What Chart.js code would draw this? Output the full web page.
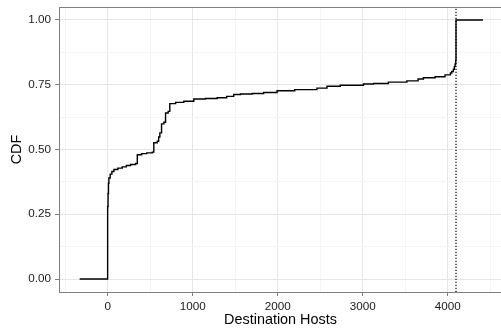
<!DOCTYPE html>
<html>
<head>
<meta charset="utf-8">
<script src="https://cdn.jsdelivr.net/npm/chart.js@4/dist/chart.umd.min.js"></script>
<style>
  body { margin: 0; background: #fff; }
  #wrap { width: 501px; height: 329px; }
</style>
</head>
<body>
<div id="wrap"><canvas id="cdfChart" width="501" height="329"></canvas></div>
<script>
// ECDF of destination hosts
const hosts = [-329, 0, 0, 5, 10, 15, 30, 50, 74, 120, 172, 220, 270, 329, 349, 400, 460, 525,
    543, 583, 600, 614, 634, 661, 681, 712, 731, 800, 896, 1013, 1150, 1288, 1400, 1482,
    1561, 1700, 1835, 1992, 2200, 2461, 2579, 2735, 3008, 3126, 3300, 3518, 3650, 3713,
    3850, 3967, 4030, 4046, 4065, 4076, 4085, 4093, 4096, 4413];
const cdf = [0, 0, 0.28, 0.33, 0.37, 0.39, 0.405, 0.415, 0.423, 0.428, 0.433, 0.438, 0.442, 0.446, 0.48, 0.484, 0.487, 0.49,
    0.526, 0.532, 0.548, 0.564, 0.599, 0.605, 0.641, 0.647, 0.677, 0.682, 0.686, 0.695, 0.697, 0.700, 0.705, 0.712,
    0.714, 0.716, 0.72, 0.727, 0.731, 0.737, 0.744, 0.748, 0.753, 0.755, 0.76, 0.765, 0.772, 0.777,
    0.781, 0.788, 0.795, 0.801, 0.81, 0.82, 0.83, 0.846, 1.0, 1.0];
const cutoff = 4096;   // dotted vertical line

const xTicks = [-500, 0, 500, 1000, 1500, 2000, 2500, 3000, 3500, 4000, 4500];
const yTicks = [0, 0.125, 0.25, 0.375, 0.5, 0.625, 0.75, 0.875, 1];

const isMajorX = v => v >= 0 && v % 1000 === 0;
const isMajorY = v => Math.abs(v * 4 - Math.round(v * 4)) < 1e-9;

const panelBorder = {
    id: 'panelBorder',
    afterDraw(chart) {
        const a = chart.chartArea, ctx = chart.ctx;
        ctx.save();
        ctx.strokeStyle = '#7f7f7f';
        ctx.lineWidth = 1;
        ctx.strokeRect(a.left - 0.5, a.top + 0.5, a.right - a.left + 5, a.bottom - a.top);
        ctx.restore();
    }
};

// keep the panel where the reference has it, ignore label overhang
function noPad(s) {
    s.paddingTop = 0; s.paddingBottom = 0; s.paddingLeft = 0; s.paddingRight = 0;
}

new Chart(document.querySelector('#cdfChart'), {
    type: 'scatter',
    data: {
        datasets: [
            {
                data: hosts.map((h, i) => ({ x: h, y: cdf[i] })),
                showLine: true,
                stepped: 'before',
                borderColor: '#000',
                borderWidth: 1.4,
                pointRadius: 0,
            },
            {
                data: [{ x: cutoff, y: -0.05 }, { x: cutoff, y: 1.05 }],
                showLine: true,
                borderColor: '#000',
                borderWidth: 1.2,
                borderDash: [1.3, 1.7],
                pointRadius: 0,
            },
        ],
    },
    plugins: [panelBorder],
    options: {
        responsive: false,
        animation: false,
        layout: { padding: { top: 7, right: 0, left: 0, bottom: 0 } },
        plugins: { legend: { display: false }, tooltip: { enabled: false } },
        scales: {
            x: {
                type: 'linear',
                min: -560,
                max: 4625,
                afterBuildTicks: s => { s.ticks = xTicks.map(v => ({ value: v })); },
                afterFit: s => { s.height = 37; noPad(s); },
                border: { display: false },
                grid: {
                    color: c => isMajorX(c.tick.value) ? '#e6e6e6' : '#f5f5f5',
                    tickColor: c => isMajorX(c.tick.value) ? '#7f7f7f' : 'rgba(0,0,0,0)',
                    tickLength: 4,
                },
                ticks: {
                    autoSkip: false,
                    maxRotation: 0,
                    padding: 4,
                    color: '#1a1a1a',
                    font: { family: 'Liberation Sans', size: 11.7 },
                    callback: v => isMajorX(v) ? String(v) : '',
                },
                title: {
                    display: true,
                    text: 'Destination Hosts',
                    color: '#000',
                    font: { family: 'Liberation Sans', size: 14.4 },
                    padding: { top: 0, bottom: 0 },
                },
            },
            y: {
                min: -0.05,
                max: 1.05,
                afterBuildTicks: s => { s.ticks = yTicks.map(v => ({ value: v })); },
                afterFit: s => { s.width = 60; noPad(s); },
                border: { display: false },
                grid: {
                    color: c => isMajorY(c.tick.value) ? '#e6e6e6' : '#f5f5f5',
                    tickColor: c => isMajorY(c.tick.value) ? '#7f7f7f' : 'rgba(0,0,0,0)',
                    tickLength: 5,
                },
                ticks: {
                    autoSkip: false,
                    padding: 4,
                    color: '#1a1a1a',
                    font: { family: 'Liberation Sans', size: 11.7 },
                    callback: v => isMajorY(v) ? v.toFixed(2) : '',
                },
                title: {
                    display: true,
                    text: 'CDF',
                    color: '#000',
                    font: { family: 'Liberation Sans', size: 14.4 },
                    padding: { top: 8, bottom: 0 },
                },
            },
        },
    },
});
</script>
</body>
</html>
